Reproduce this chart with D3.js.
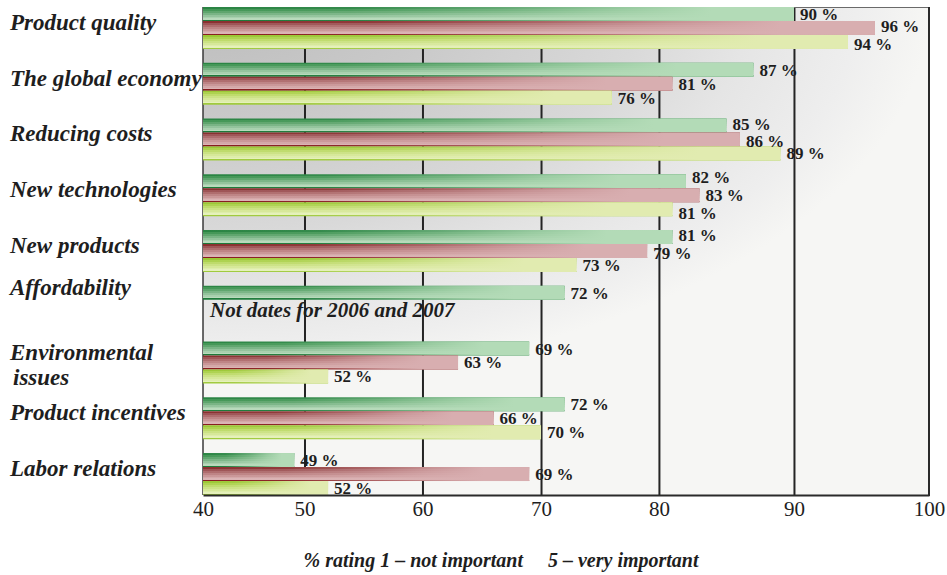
<!DOCTYPE html>
<html>
<head>
<meta charset="utf-8">
<script src="https://cdn.jsdelivr.net/npm/d3@7"></script>
<style>
  html, body { margin: 0; padding: 0; background: #ffffff; }
  svg { display: block; }
  text { font-family: "Liberation Serif", "Times New Roman", serif; fill: #1e1e1e; }
</style>
</head>
<body>
<svg id="chart" width="947" height="575"></svg>
<script>
// ---- data -------------------------------------------------------------
const categories = [
  "Product quality",
  "The global economy",
  "Reducing costs",
  "New technologies",
  "New products",
  "Affordability",
  "Environmental\nissues",
  "Product incentives",
  "Labor relations"
];
const seriesKeys = ["y2008", "y2007", "y2006"];
const values2008 = [90, 87, 85, 82, 81, 72, 69, 72, 49];
const values2007 = [96, 81, 86, 83, 79, null, 63, 66, 69];
const values2006 = [94, 76, 89, 81, 73, null, 52, 70, 52];
const tickValues = [40, 50, 60, 70, 80, 90, 100];
const axisTitle = "% rating 1 \u2013 not important     5 \u2013 very important";
const footnote = "Not dates for 2006 and 2007";
const footnoteCategory = "Affordability";

// ---- layout -----------------------------------------------------------
const W = 947, H = 575;
const plot = { left: 203, top: 7, right: 929, bottom: 495 };
const plotW = plot.right - plot.left;
// the printed scale is not evenly spaced: each tick sits at its own share of the width
const tickShare = [0, 0.1398, 0.3023, 0.4656, 0.628, 0.814, 1];
const valueFont = 17;

const svg = d3.select("#chart");
const defs = svg.append("defs");

const x = d3.scaleLinear()
  .domain(tickValues)
  .range(tickShare.map(f => plot.left + f * plotW));

const y = d3.scaleBand()
  .domain(categories)
  .range([plot.top, plot.bottom])
  .paddingInner(0.247)
  .paddingOuter(0);

const ySub = d3.scaleBand()
  .domain(seriesKeys)
  .range([0, y.bandwidth()])
  .padding(0);

const seriesValues = { y2008: values2008, y2007: values2007, y2006: values2006 };

const rows = categories.map((c, i) => ({
  category: c,
  bars: seriesKeys
    .map(k => ({ key: k, value: seriesValues[k][i] }))
    .filter(d => d.value != null)
}));

// value labels: start centred on their bar, then spread apart where they collide
rows.forEach(r => {
  r.bars.forEach(b => {
    b.lx = x(b.value) + 6;
    b.lw = valueFont * 2;
    b.ly = ySub(b.key) + ySub.bandwidth() / 2;
  });
  for (let iter = 0; iter < 30; iter++) {
    for (let i = 0; i < r.bars.length; i++) {
      for (let j = i + 1; j < r.bars.length; j++) {
        const a = r.bars[i], b = r.bars[j];
        const xOverlap = a.lx < b.lx + b.lw && b.lx < a.lx + a.lw;
        const gap = b.ly - a.ly;
        const need = valueFont + 1;
        if (xOverlap && gap < need) {
          const push = (need - gap) / 2;
          a.ly -= push;
          b.ly += push;
        }
      }
    }
  }
});

// ---- gradients ----------------------------------------------------------
const bg = defs.append("radialGradient")
  .attr("id", "plotBg")
  .attr("gradientUnits", "userSpaceOnUse")
  .attr("cx", plot.left).attr("cy", plot.top).attr("r", plotW)
  .attr("gradientTransform",
    `translate(${plot.left},${plot.top}) scale(1,0.52) translate(${-plot.left},${-plot.top})`);
[[0, "#bdbdbd"], [0.3, "#c9c9c9"], [0.6, "#d9d9d9"], [0.75, "#e5e5e5"], [0.9, "#eeeeee"], [1, "#f6f6f4"]]
  .forEach(([o, c]) => bg.append("stop").attr("offset", o).attr("stop-color", c));

// banded vertical shading per series (top to bottom), last band is the dark rim
const bands = {
  y2008: ["#2a8443", "#449757", "#5ea56d", "#79b485", "#93c39c", "#a8d0ae", "#b9dabc", "#1b7938"],
  y2007: ["#8a3030", "#9e5456", "#af6d6e", "#be8485", "#ca9798", "#d4a8a9", "#dbb4b5", "#871c1e"],
  y2006: ["#9bc834", "#add24f", "#bedb6b", "#cbe284", "#d6e899", "#deedab", "#e5f1bb", "#9fca3c"]
};
const bandStops = [0, 0.12, 0.26, 0.4, 0.54, 0.68, 0.8, 0.9, 1];
const pale = { y2008: "#b3dbb7", y2007: "#d8aeb0", y2006: "#e1ebb0" };

seriesKeys.forEach(k => {
  const g = defs.append("linearGradient")
    .attr("id", "band-" + k)
    .attr("x1", 0).attr("y1", 0).attr("x2", 0).attr("y2", 1);
  bands[k].forEach((c, i) => {
    g.append("stop").attr("offset", bandStops[i]).attr("stop-color", c);
    g.append("stop").attr("offset", bandStops[i + 1]).attr("stop-color", c);
  });
  const f = defs.append("linearGradient")
    .attr("id", "fade-" + k)
    .attr("x1", 0).attr("y1", 0).attr("x2", 1).attr("y2", 0);
  [[0, 0], [0.25, 0.08], [0.5, 0.42], [0.7, 0.78], [0.86, 1], [1, 1]]
    .forEach(([o, a]) => f.append("stop").attr("offset", o)
      .attr("stop-color", pale[k]).attr("stop-opacity", a));
});

// ---- plot background and grid --------------------------------------------
svg.append("rect")
  .attr("x", plot.left).attr("y", plot.top)
  .attr("width", plotW).attr("height", plot.bottom - plot.top)
  .attr("fill", "url(#plotBg)");

svg.append("g")
  .attr("transform", `translate(0,${plot.bottom})`)
  .call(d3.axisBottom(x)
    .tickValues(tickValues.slice(1, -1))
    .tickSize(-(plot.bottom - plot.top))
    .tickFormat(""))
  .call(g => g.select(".domain").remove())
  .call(g => g.selectAll(".tick line").attr("stroke", "#242424").attr("stroke-width", 2));

// frame
svg.append("line")
  .attr("x1", plot.left).attr("x2", plot.right)
  .attr("y1", plot.top + 0.5).attr("y2", plot.top + 0.5)
  .attr("stroke", "#6a6a6a").attr("stroke-width", 1);
svg.append("line")
  .attr("x1", plot.left).attr("x2", plot.left)
  .attr("y1", plot.top).attr("y2", plot.bottom)
  .attr("stroke", "#3a3a3a").attr("stroke-width", 1.5);
svg.append("line")
  .attr("x1", plot.right).attr("x2", plot.right)
  .attr("y1", plot.top).attr("y2", plot.bottom + 1)
  .attr("stroke", "#2a2a2a").attr("stroke-width", 2);

// ---- bars ---------------------------------------------------------------------
const groups = svg.append("g").selectAll("g.row")
  .data(rows)
  .join("g")
  .attr("class", "row")
  .attr("transform", d => `translate(0,${y(d.category)})`);

const bar = groups.selectAll("g.bar")
  .data(d => d.bars)
  .join("g")
  .attr("class", "bar");

bar.append("rect")
  .attr("x", x(40))
  .attr("y", d => ySub(d.key))
  .attr("width", d => x(d.value) - x(40))
  .attr("height", ySub.bandwidth())
  .attr("fill", d => `url(#band-${d.key})`);

bar.append("rect")
  .attr("x", x(40))
  .attr("y", d => ySub(d.key))
  .attr("width", d => x(d.value) - x(40))
  .attr("height", ySub.bandwidth())
  .attr("fill", d => `url(#fade-${d.key})`);

groups.selectAll("text.val")
  .data(d => d.bars)
  .join("text")
  .attr("class", "val")
  .attr("x", d => d.lx)
  .attr("y", d => d.ly + 6)
  .attr("font-size", valueFont)
  .attr("font-weight", "bold")
  .text(d => d.value + " %");

// bottom axis line and tick labels
svg.append("g")
  .attr("transform", `translate(0,${plot.bottom})`)
  .call(d3.axisBottom(x).tickValues(tickValues).tickSize(0).tickPadding(6).tickFormat(d3.format("d")))
  .call(g => g.select(".domain").attr("stroke", "#2a2a2a").attr("stroke-width", 2))
  .call(g => g.selectAll(".tick text")
    .attr("font-family", "'Liberation Serif', 'Times New Roman', serif")
    .attr("font-size", 21)
    .attr("fill", "#1e1e1e"));

// ---- category labels ---------------------------------------------------------------
svg.append("g").selectAll("text.cat")
  .data(rows)
  .join("text")
  .attr("class", "cat")
  .attr("font-size", 23)
  .attr("font-weight", "bold")
  .attr("font-style", "italic")
  .each(function (d) {
    const lines = d.category.split("\n");
    const top = y(d.category);
    const mid = top + (d.bars.length * ySub.bandwidth()) / 2;
    const first = lines.length > 1 ? mid - 3 : mid + 2;
    const t = d3.select(this);
    lines.forEach((line, i) => {
      t.append("tspan")
        .attr("x", i === 0 ? 10 : 13)
        .attr("y", first + i * 25)
        .text(line);
    });
  });

// note under the single-series row
svg.append("text")
  .attr("x", plot.left + 7)
  .attr("y", y(footnoteCategory) + 31)
  .attr("font-size", 21)
  .attr("font-weight", "bold")
  .attr("font-style", "italic")
  .text(footnote);

// axis title
svg.append("text")
  .attr("x", (plot.left + plot.right) / 2 - 65)
  .attr("y", 567)
  .attr("text-anchor", "middle")
  .attr("font-size", 20)
  .attr("font-weight", "bold")
  .attr("font-style", "italic")
  .style("white-space", "pre")
  .text(axisTitle);
</script>
</body>
</html>
